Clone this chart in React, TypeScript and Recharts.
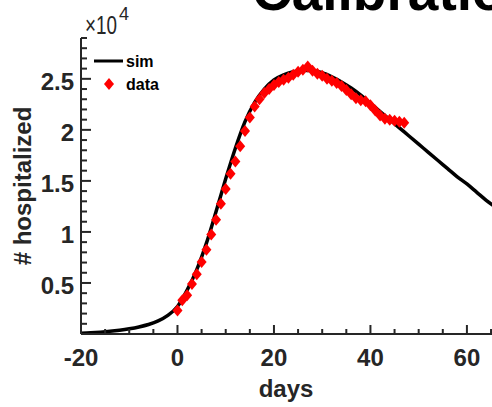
import { ComposedChart, Line, Scatter, XAxis, YAxis } from "recharts";

// simulated curve (days, hospitalized)
const simDays = [
  -20, -18, -16, -14, -12, -10, -8, -6, -4, -2, 0, 2, 4, 6, 8, 10, 12, 14, 16, 18, 20,
  22, 24, 26, 28, 30, 32, 34, 36, 38, 40, 42, 44, 46, 48, 50, 52, 54, 56, 58, 60, 62, 64, 66,
];
const simVals = [
  80, 120, 180, 260, 370, 510, 690, 930, 1280, 1820, 2700, 4300, 6300, 8900, 12000, 15200,
  18200, 20800, 22700, 24000, 24900, 25400, 25700, 25850, 25800, 25600, 25200, 24700, 24100,
  23400, 22600, 21800, 21000, 20200, 19400, 18600, 17800, 17000, 16200, 15400, 14700, 13900,
  13100, 12400,
];

// observed data, one per day from day 0
const obsVals = [
  2300, 3300, 3800, 4900, 5850, 7050, 8250, 9750, 11200, 12750, 14200, 15700, 16900, 18400,
  19900, 21200, 22300, 23000, 23600, 24000, 24400, 24700, 24900, 25100, 25400, 25700, 25900,
  26200, 25800, 25500, 25300, 25000, 24800, 24600, 24300, 23900, 23500, 23100, 22900, 22800,
  22400, 21900, 21400, 21100, 21000, 20900, 20800, 20700,
];
const obsDays = obsVals.map((_, i) => i);

const xTicks = [-20, -15, -10, -5, 0, 5, 10, 15, 20, 25, 30, 35, 40, 45, 50, 55, 60, 65];
const yTicks = Array.from({ length: 30 }, (_, i) => i * 1000);

const sim = simDays.map((d, i) => ({ day: d, hosp: simVals[i] }));
const obs = obsDays.map((d, i) => ({ day: d, hosp: obsVals[i] }));

const FONT = "'Liberation Sans', Arial, sans-serif";
const AX = "#262626";

const XTick = ({ x, y, payload }: any) => {
  const v = payload.value;
  const major = v % 20 === 0;
  return (
    <g>
      <line x1={x} x2={x} y1={y} y2={y - (major ? 9 : 5)} stroke={AX} strokeWidth={2} />
      {major && (
        <text x={x} y={y + 32} textAnchor="middle" fontFamily={FONT} fontWeight="bold" fontSize={24} fill={AX}>
          {v}
        </text>
      )}
    </g>
  );
};

const YTick = ({ x, y, payload }: any) => {
  const v = payload.value;
  const major = v % 5000 === 0;
  return (
    <g>
      <line x1={x} x2={x + (major ? 10 : 6)} y1={y} y2={y} stroke={AX} strokeWidth={2} />
      {major && v > 0 && (
        <text x={x - 7} y={y + 11} textAnchor="end" fontFamily={FONT} fontWeight="bold" fontSize={24} fill={AX}>
          {v / 10000}
        </text>
      )}
    </g>
  );
};

const Diamond = ({ cx, cy }: any) => (
  <polygon
    points={`${cx},${cy - 6} ${cx + 5},${cy} ${cx},${cy + 6} ${cx - 5},${cy}`}
    fill="#ff0000"
  />
);

export default function App() {
  return (
    <div style={{ position: "absolute", left: 0, top: 0, width: 492, height: 407, overflow: "hidden", background: "#fff" }}>
      <ComposedChart width={492} height={407} margin={{ top: 38, right: 0, bottom: 0, left: 0 }}>
        <XAxis
          dataKey="day"
          type="number"
          domain={[-20, 65.2]}
          ticks={xTicks}
          interval={0}
          allowDataOverflow
          height={73}
          tickSize={0}
          tickMargin={0}
          tick={<XTick />}
          axisLine={{ stroke: AX, strokeWidth: 2 }}
        />
        <YAxis
          type="number"
          domain={[0, 29000]}
          ticks={yTicks}
          interval={0}
          allowDataOverflow
          width={81}
          tickSize={0}
          tickMargin={0}
          tick={<YTick />}
          axisLine={{ stroke: AX, strokeWidth: 2 }}
        />
        <Line
          data={sim}
          dataKey="hosp"
          type="monotone"
          stroke="#000"
          strokeWidth={3.5}
          dot={false}
          isAnimationActive={false}
        />
        <Scatter data={obs} dataKey="hosp" shape={<Diamond />} isAnimationActive={false} />
      </ComposedChart>
      <svg width={492} height={407} style={{ position: "absolute", left: 0, top: 0, pointerEvents: "none" }}>
        <text x={252} y={10} fontFamily={FONT} fontWeight="bold" fontSize={55} fill="#000">
          Calibration
        </text>
        <text
          x={85}
          y={34}
          fontFamily={FONT}
          fontSize={25}
          fill={AX}
          textLength={32}
          lengthAdjust="spacingAndGlyphs"
        >
          ×10
        </text>
        <text x={119} y={20} fontFamily={FONT} fontSize={18} fill={AX}>
          4
        </text>
        <line x1={94} x2={123} y1={61} y2={61} stroke="#000" strokeWidth={3} />
        <text x={126} y={67} fontFamily={FONT} fontWeight="bold" fontSize={16} fill="#000">
          sim
        </text>
        <polygon points="109,78 114,84 109,90 104,84" fill="#ff0000" />
        <text x={126} y={90} fontFamily={FONT} fontWeight="bold" fontSize={16} fill="#000">
          data
        </text>
        <text
          x={31}
          y={186}
          transform="rotate(-90 31 186)"
          textAnchor="middle"
          fontFamily={FONT}
          fontWeight="bold"
          fontSize={24}
          fill={AX}
        >
          # hospitalized
        </text>
        <text x={286} y={397} textAnchor="middle" fontFamily={FONT} fontWeight="bold" fontSize={24} fill={AX}>
          days
        </text>
      </svg>
    </div>
  );
}
